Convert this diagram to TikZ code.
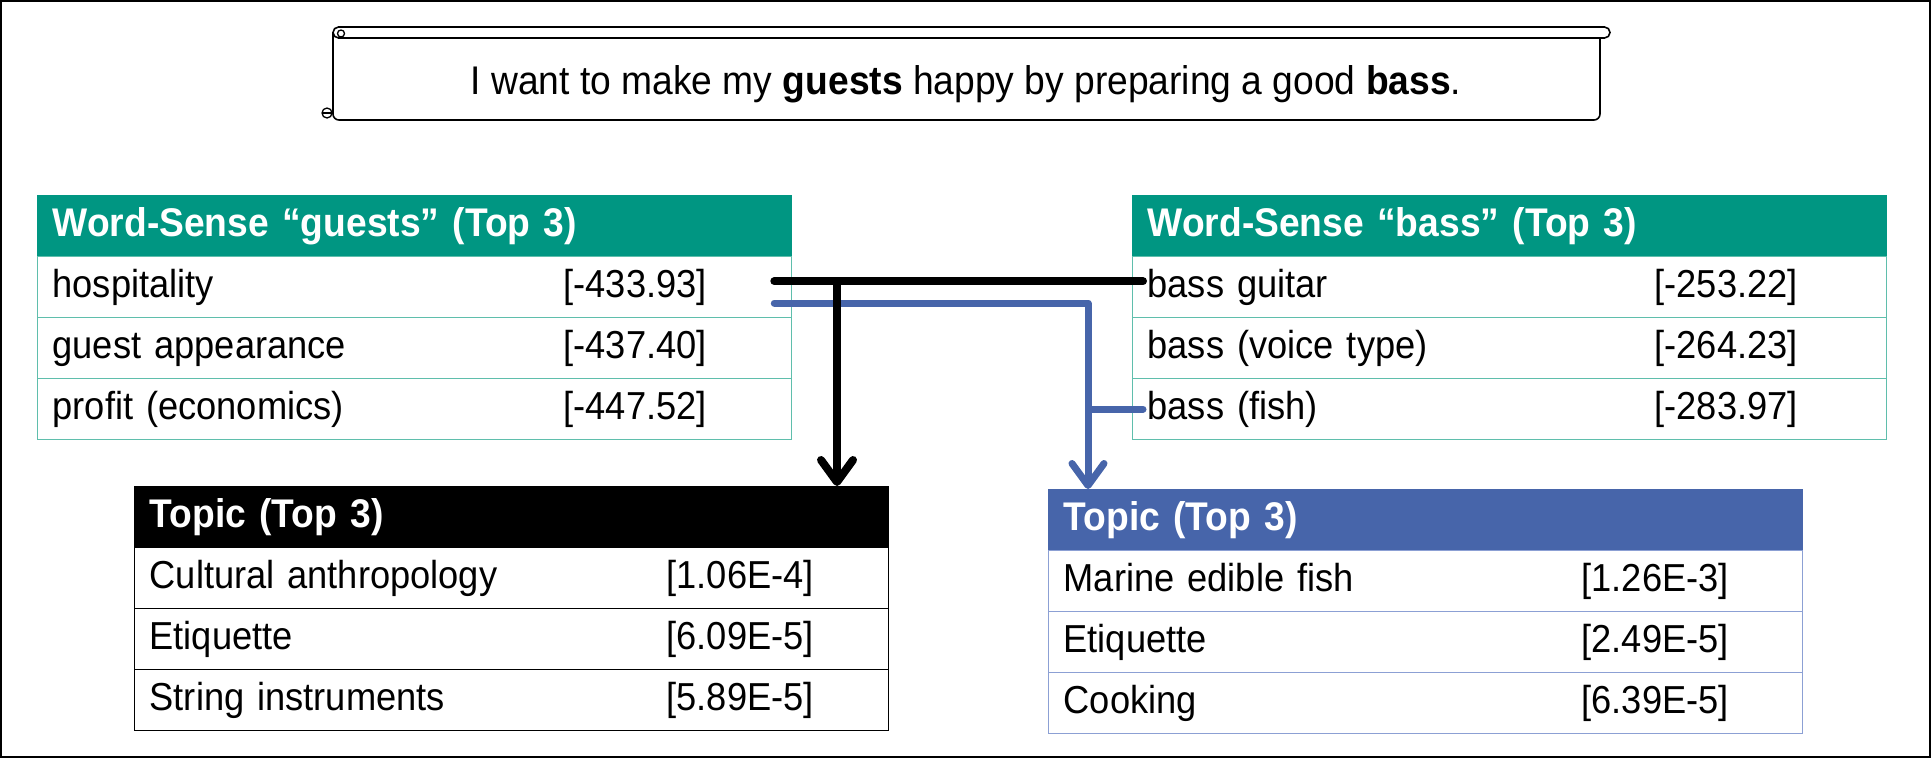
\documentclass[tikz,border=0pt]{standalone}
\usepackage{fontspec}
\setmainfont{Liberation Sans}[FakeStretch=0.93]
\usetikzlibrary{arrows.meta,positioning,calc}

\definecolor{wsteal}{RGB}{0,150,130}
\definecolor{wsline}{RGB}{95,190,172}
\definecolor{tpblue}{RGB}{71,101,170}
\definecolor{tpline}{RGB}{140,160,212}

\tikzset{
  txt/.style={font=\fontsize{39}{46}\selectfont},
  cell/.style={txt, draw, line width=1.3pt, anchor=north west, inner xsep=15pt, inner ysep=0pt,
    text width=724pt, align=left, minimum height=61pt},
  hdtxt/.style={text=white, font=\fontsize{40}{46}\selectfont\bfseries},
  wshead/.style={cell, draw=wsteal, fill=wsteal, hdtxt},
  wsrow/.style={cell, draw=wsline},
  kbhead/.style={cell, draw=black, fill=black, hdtxt},
  kbrow/.style={cell, draw=black},
  ubhead/.style={cell, draw=tpblue, fill=tpblue, hdtxt},
  ubrow/.style={cell, draw=tpline},
  blkline/.style={line width=8pt, line cap=round, line join=round},
  bluline/.style={line width=7pt, color=tpblue, line cap=round, line join=round},
  tip/.style={-{Straight Barb[length=22pt,width=32pt,round]}}
}

\begin{document}
\begin{tikzpicture}[x=1pt,y=-1pt]
  \useasboundingbox (0,0) rectangle (1931,758);
  \draw[line width=2pt] (1,1) rectangle (1930,757);

  % scroll with the sentence
  \draw[line width=1.6pt, rounded corners=6pt] (333,33) -- (333,120) -- (1600,120) -- (1600,38);
  \draw[line width=1.6pt, rounded corners=5.5pt] (333,27) rectangle (1610,38);
  \draw[line width=1.3pt] (341,33.5) circle (3.5);
  \draw[line width=1.3pt] (327,113) circle (5);
  \draw[line width=1.3pt] (322,113) -- (333,113);
  \node[font=\fontsize{40}{46}\selectfont] (sent) at (966,84) {I want to make my \textbf{guests} happy by preparing a good \textbf{bass}.};

  % word senses
  \node[wshead] (gh) at (37,195) {Word-Sense “guests” (Top 3)};
  \foreach \lab/\val [count=\i] in {hospitality/{[-433.93]}, {guest appearance}/{[-437.40]}, {profit (economics)}/{[-447.52]}}
    \node[wsrow] (g\i) at (37,{195+61*\i}) {\makebox[511pt][l]{\lab}\val};

  \node[wshead] (bh) at (1132,195) {Word-Sense “bass” (Top 3)};
  \foreach \lab/\val [count=\i] in {{bass guitar}/{[-253.22]}, {bass (voice type)}/{[-264.23]}, {bass (fish)}/{[-283.97]}}
    \node[wsrow] (b\i) at (1132,{195+61*\i}) {\makebox[507pt][l]{\lab}\val};

  % topics
  \node[kbhead] (th) at (134,486) {Topic (Top 3)};
  \foreach \lab/\val [count=\i] in {{Cultural anthropology}/{[1.06E-4]}, Etiquette/{[6.09E-5]}, {String instruments}/{[5.89E-5]}}
    \node[kbrow] (t\i) at (134,{486+61*\i}) {\makebox[517pt][l]{\lab}\val};

  \node[ubhead] (uh) at (1048,489) {Topic (Top 3)};
  \foreach \lab/\val [count=\i] in {{Marine edible fish}/{[1.26E-3]}, Etiquette/{[2.49E-5]}, Cooking/{[6.39E-5]}}
    \node[ubrow] (u\i) at (1048,{489+61*\i}) {\makebox[518pt][l]{\lab}\val};

  % connectors
  \coordinate (kL) at ([xshift=-18pt,yshift=6pt]g1.east);
  \coordinate (kR) at ([xshift=11pt,yshift=6pt]b1.west);
  \coordinate (kJ) at (837,281);
  \coordinate (mL) at ([xshift=-18pt,yshift=-16pt]g1.east);
  \coordinate (mJ) at ([xshift=40pt]uh.north west);
  \draw[bluline] (mL) -| (mJ |- mL) -- (mJ |- b3.west) -- ([xshift=11pt]b3.west);
  \draw[bluline,tip] (mJ |- b3.west) -- (mJ);
  \draw[blkline] (kL) -- (kR);
  \draw[blkline,tip] (kJ) -- (kJ |- th.north);
\end{tikzpicture}
\end{document}
